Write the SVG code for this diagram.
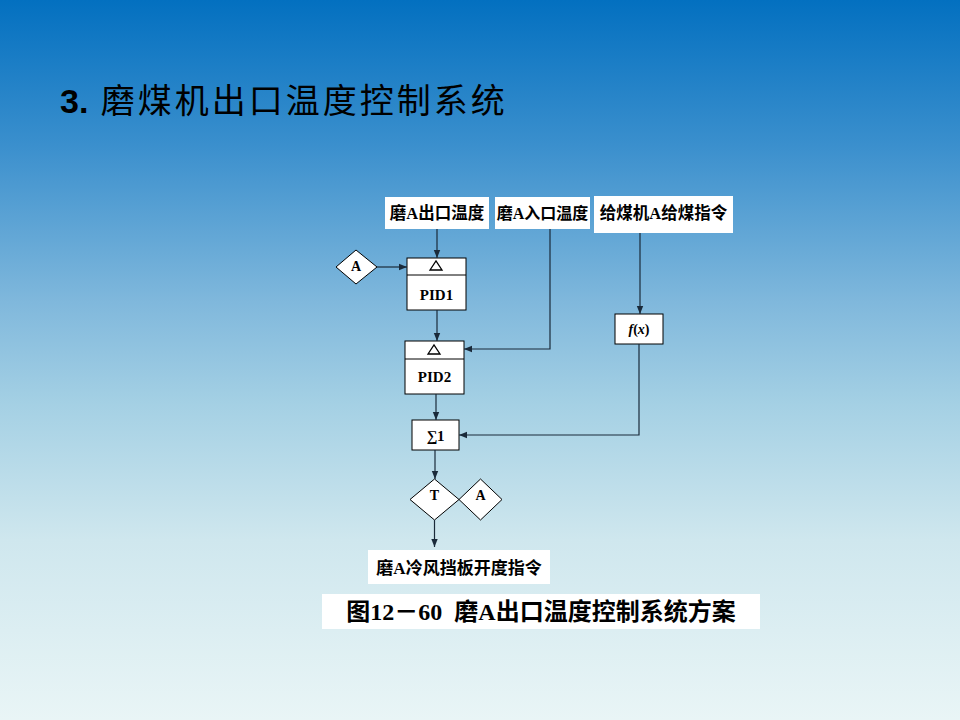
<svg xmlns="http://www.w3.org/2000/svg" width="960" height="720" viewBox="0 0 960 720">
<defs>
<linearGradient id="bg" x1="0" y1="0" x2="0" y2="1">
<stop offset="0" stop-color="#0370c0"/>
<stop offset="0.2" stop-color="#3a8fcd"/>
<stop offset="0.42" stop-color="#80b8dc"/>
<stop offset="0.56" stop-color="#a4d0e4"/>
<stop offset="0.75" stop-color="#cfe7ee"/>
<stop offset="1" stop-color="#e9f5f6"/>
</linearGradient>
<marker id="ah" viewBox="0 0 10 10" refX="10" refY="5" markerWidth="8" markerHeight="8" markerUnits="userSpaceOnUse" orient="auto">
<path d="M0,1 L10,5 L0,9 Z" fill="#1a2a3a"/>
</marker>
<style>
.lbl{fill:#fff;stroke:none}
.box{fill:#fff;stroke:#000;stroke-width:1}
.t{font-family:"Liberation Serif","Noto Sans CJK SC",serif;font-weight:bold;fill:#000;text-anchor:middle}
.c{fill:none;stroke:#1a2a3a;stroke-width:1.2}
</style>
</defs>
<rect width="960" height="720" fill="url(#bg)"/>
<text x="60" y="113" font-family="'Liberation Sans','Noto Sans CJK SC',sans-serif" font-size="34" fill="#000"><tspan font-weight="bold">3.</tspan><tspan letter-spacing="3"> 磨煤机出口温度控制系统</tspan></text>

<g id="in1"><rect class="lbl" x="385" y="197" width="104" height="32"/><text class="t" x="437" y="219" font-size="16.5">磨A出口温度</text></g>
<g id="in2"><rect class="lbl" x="495" y="197" width="95" height="32"/><text class="t" x="542.5" y="219" font-size="16">磨A入口温度</text></g>
<g id="in3"><rect class="lbl" x="594" y="196" width="139" height="37"/><text class="t" x="663.5" y="219" font-size="16.5">给煤机A给煤指令</text></g>

<g id="dA1"><path class="box" d="M336,267 L356,250 L377,267 L356,284 Z"/><text class="t" x="356" y="271" font-size="14">A</text></g>

<g id="pid1"><rect class="box" x="407" y="258" width="59" height="52"/><line x1="407" y1="275" x2="466" y2="275" stroke="#000"/><path d="M430,270 L436,261 L442,270 Z" fill="none" stroke="#000" stroke-width="1.3"/><text class="t" x="436.5" y="300" font-size="15">PID1</text></g>

<g id="pid2"><rect class="box" x="405" y="341" width="59" height="53"/><line x1="405" y1="359" x2="464" y2="359" stroke="#000"/><path d="M428,354 L434,345 L440,354 Z" fill="none" stroke="#000" stroke-width="1.3"/><text class="t" x="434.5" y="382" font-size="15">PID2</text></g>

<g id="fx"><rect class="box" x="615" y="314" width="48" height="30"/><text x="639" y="334" font-family="'Liberation Serif',serif" font-weight="bold" font-style="italic" font-size="14" text-anchor="middle" fill="#000">f<tspan font-style="normal">(</tspan>x<tspan font-style="normal">)</tspan></text></g>

<g id="sum"><rect class="box" x="412" y="420" width="47" height="30"/><text class="t" x="435.5" y="441" font-size="15">∑1</text></g>

<g id="dT"><path class="box" d="M410,499.5 L434.5,479 L459,499.5 L434.5,520 Z"/><text class="t" x="434.5" y="500" font-size="14">T</text></g>
<g id="dA2"><path class="box" d="M459,499.5 L480.5,479 L502,499.5 L480.5,520 Z"/><text class="t" x="480.5" y="500" font-size="14">A</text></g>

<g id="out"><rect class="lbl" x="368" y="550" width="182" height="34"/><text class="t" x="459" y="574" font-size="17">磨A冷风挡板开度指令</text></g>

<g id="caption"><rect class="lbl" x="322" y="594" width="438" height="35"/><text class="t" x="541" y="620" font-size="24">图12－60&#160;&#160;磨A出口温度控制系统方案</text></g>

<g id="connectors">
<line class="c" x1="437" y1="229" x2="437" y2="258" marker-end="url(#ah)"/>
<line class="c" x1="377" y1="267" x2="407" y2="267" marker-end="url(#ah)"/>
<line class="c" x1="437" y1="310" x2="437" y2="341" marker-end="url(#ah)"/>
<polyline class="c" points="550,229 550,349 464,349" marker-end="url(#ah)"/>
<line class="c" x1="640" y1="233" x2="640" y2="314" marker-end="url(#ah)"/>
<line class="c" x1="436" y1="394" x2="436" y2="420" marker-end="url(#ah)"/>
<polyline class="c" points="639,344 639,435 459,435" marker-end="url(#ah)"/>
<line class="c" x1="435" y1="450" x2="435" y2="479" marker-end="url(#ah)"/>
<line class="c" x1="434.5" y1="520" x2="434.5" y2="547" marker-end="url(#ah)"/>
</g>
</svg>
